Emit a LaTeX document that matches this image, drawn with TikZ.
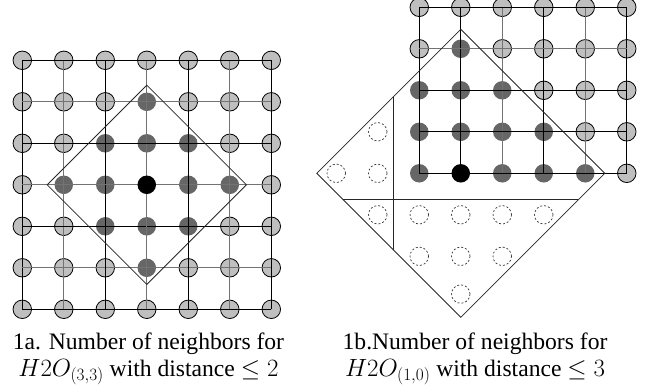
\documentclass[tikz,border=0pt]{standalone}
\usepackage{fontspec}
\setmainfont{Liberation Serif}
\begin{document}
\begin{tikzpicture}[x=41.5pt,y=41.5pt,
	site/.style={circle,draw,fill=black!25,line width=0.8pt,inner sep=0pt,minimum size=18.5pt},
	near/.style={circle,fill=black!60,inner sep=0pt,minimum size=18.5pt},
	home/.style={circle,fill=black,inner sep=0pt,minimum size=18.5pt},
	ghost/.style={circle,draw=black!80,dash pattern=on 2pt off 2pt,line width=0.7pt,inner sep=0pt,minimum size=18.5pt},
	link/.style={line width=1.1pt},
	fade/.style={line width=1.1pt,draw=black!55},
	frame/.style={line width=0.8pt,draw=black!85},
	captext/.style={anchor=base,align=center,inner sep=0pt,font=\fontsize{23.6}{27}\selectfont}]
\useasboundingbox (-0.537,-1.92) rectangle (15.174,7.453);
% left lattice, H2O(3,3)
\foreach \i in {0,...,6} {
	\foreach \j in {0,...,6} {
		\pgfmathtruncatemacro\dist{abs(\i-3)+abs(\j-3)}
		\ifnum\dist>2 \node[site] (a-\i-\j) at (\i,\j) {};
		\else\ifnum\dist>0 \node[near] (a-\i-\j) at (\i,\j) {};
		\else \coordinate (a-\i-\j) at (\i,\j);\fi\fi
	}
}
\foreach \k/\tone in {0/link,1/fade,2/link,3/fade,4/link,5/fade,6/link} {
	\draw[\tone] (a-\k-0.center) -- (a-\k-6.center);
	\draw[\tone] (a-0-\k.center) -- (a-6-\k.center);
}
\node[home] (ha) at (a-3-3) {};
\draw[frame] ([shift={(0,2.4)}]a-3-3) -- ([shift={(2.4,0)}]a-3-3)
	-- ([shift={(0,-2.4)}]a-3-3) -- ([shift={(-2.4,0)}]a-3-3) -- cycle;
% right lattice, H2O(1,0)
\begin{scope}[shift={(9.566,3.277)}]
\foreach \i in {0,...,5} {
	\foreach \j in {0,...,4} {
		\pgfmathtruncatemacro\dist{abs(\i-1)+\j}
		\ifnum\dist>3 \node[site] (b-\i-\j) at (\i,\j) {};
		\else\ifnum\dist>0 \node[near] (b-\i-\j) at (\i,\j) {};
		\else \coordinate (b-\i-\j) at (\i,\j);\fi\fi
	}
}
\foreach \k/\tone in {0/link,1/link,2/fade,3/link,4/fade,5/link}
	\draw[\tone] (b-\k-0.center) -- (b-\k-4.center);
\foreach \k/\tone in {0/link,1/link,2/link,3/fade,4/link}
	\draw[\tone] (b-0-\k.center) -- (b-5-\k.center);
\end{scope}
\node[home] (hb) at (b-1-0) {};
\foreach \p/\q [count=\n] in {-2/1,-3/0,-2/0,-2/-1,-1/-1,0/-1,1/-1,2/-1,-1/-2,0/-2,1/-2,0/-2.91}
	\node[ghost] (g-\n) at ([shift={(\p,\q)}]b-1-0) {};
\draw[frame] ([shift={(0,3.47)}]b-1-0) -- ([shift={(3.47,0)}]b-1-0)
	-- ([shift={(0,-3.47)}]b-1-0) -- ([shift={(-3.47,0)}]b-1-0) -- cycle;
\draw[frame] ([shift={(-2.83,-0.64)}]b-1-0) -- ([shift={(2.83,-0.64)}]b-1-0);
\draw[frame] ([shift={(-1.62,1.85)}]b-1-0) -- ([shift={(-1.62,-1.85)}]b-1-0);
% captions
\node[captext] (capa) at (3.04,-1.61) {1a. Number of neighbors for\\ $H2O_{(3,3)}$ with distance $\leq 2$};
\node[captext] (capb) at (10.91,-1.61) {1b.Number of neighbors for\\ $H2O_{(1,0)}$ with distance $\leq 3$};
\end{tikzpicture}
\end{document}
